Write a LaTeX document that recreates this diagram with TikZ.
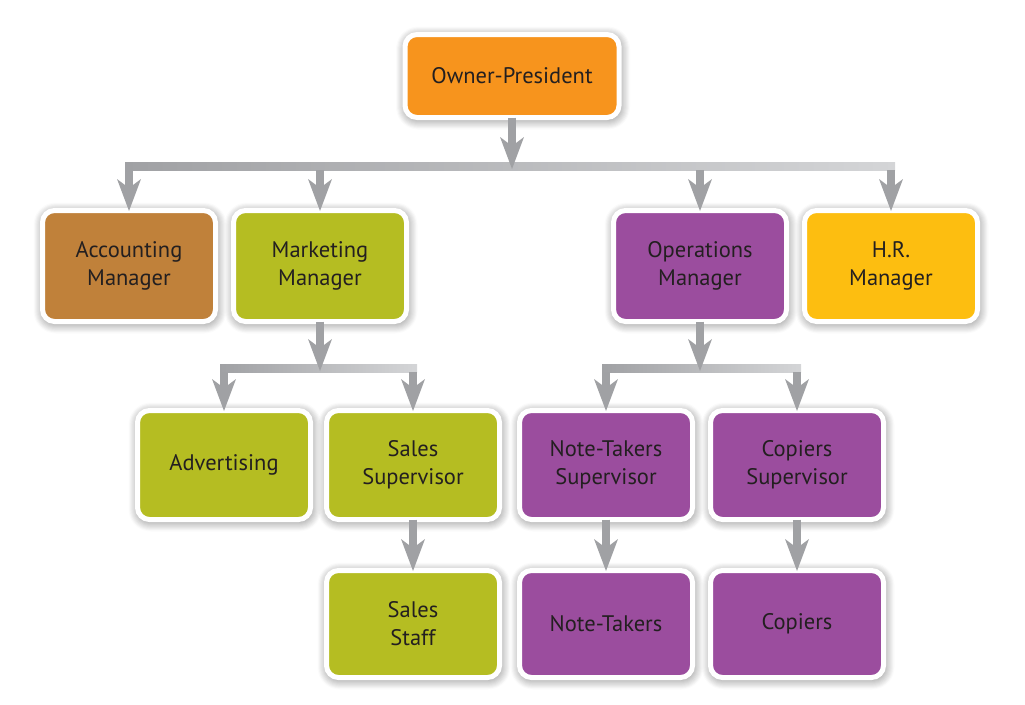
\documentclass[tikz,border=0pt]{standalone}
\usepackage{fontspec}
\setmainfont{PT Sans}
\usetikzlibrary{arrows.meta,shadows.blur}
\definecolor{corange}{HTML}{F7941D}
\definecolor{cbrown}{HTML}{C0813A}
\definecolor{colive}{HTML}{B5BD22}
\definecolor{cpurple}{HTML}{9B4D9E}
\definecolor{cyellow}{HTML}{FDBE10}
\definecolor{cgray}{HTML}{A0A1A4}
\definecolor{clight}{HTML}{D4D5D7}
\definecolor{ctext}{HTML}{231F20}
\tikzset{
  box/.style={rounded corners=12pt, draw=white, line width=5pt, align=center,
    text=ctext, font=\fontsize{22.5}{28}\selectfont,
    blur shadow={shadow blur steps=10, shadow xshift=1pt, shadow yshift=-2pt, shadow opacity=55, shadow blur radius=10pt},
    minimum width=173pt, inner sep=0pt},
  r2/.style={box, minimum height=111pt},
  r3/.style={box, minimum height=109pt},
  r4/.style={box, minimum height=107pt},
  barfill/.style={left color=cgray, right color=clight, draw=none},
  arr/.style={draw=cgray, line width=8pt, -{Stealth[width=24pt,length=32pt,inset=9pt,line width=0pt]}},
}
\begin{document}
\begin{tikzpicture}[x=1pt,y=-1pt]
\useasboundingbox (0,0) rectangle (1025,704);
% nodes
\node[box, fill=corange, minimum width=214pt, minimum height=83pt] (owner) at (512,76) {Owner-President};
\node[r2, fill=cbrown] (acc) at (129,266) {Accounting\\Manager};
\node[r2, fill=colive] (mkt) at (320,266) {Marketing\\Manager};
\node[r2, fill=cpurple] (ops) at (700,266) {Operations\\Manager};
\node[r2, fill=cyellow] (hr) at (891,266) {H.R.\\Manager};
\node[r3, fill=colive] (adv) at (224,465) {Advertising};
\node[r3, fill=colive] (ssup) at (413,465) {Sales\\Supervisor};
\node[r3, fill=cpurple] (nsup) at (606,465) {Note-Takers\\Supervisor};
\node[r3, fill=cpurple] (csup) at (797,465) {Copiers\\Supervisor};
\node[r4, fill=colive] (staff) at (413,624) {Sales\\Staff};
\node[r4, fill=cpurple] (notes) at (606,624) {Note-Takers};
\node[r4, fill=cpurple] (cop) at (797,624) {Copiers};
% junction coordinates
\coordinate (b1) at (512,166);
\coordinate (b2) at (320,368);
\coordinate (b3) at (700,368);
% level 1 connectors
\path[barfill] ([shift={(-4pt,-4pt)}]acc.north |- b1) rectangle ([shift={(4pt,4pt)}]hr.north |- b1);
\draw[arr] ([yshift=2.5pt]owner.south) -- ([yshift=-3pt]b1);
\foreach \n in {acc,mkt,ops,hr}{
  \draw[arr] ([yshift=-4pt]\n.north |- b1) -- ([yshift=-3pt]\n.north);
}
% level 2
\path[barfill] ([shift={(-4pt,-4pt)}]adv.north |- b2) rectangle ([shift={(4pt,4pt)}]ssup.north |- b2);
\draw[arr] ([yshift=2.5pt]mkt.south) -- ([yshift=-3pt]b2);
\draw[arr] ([yshift=-4pt]adv.north |- b2) -- ([yshift=-3pt]adv.north);
\draw[arr] ([yshift=-4pt]ssup.north |- b2) -- ([yshift=-3pt]ssup.north);
\path[barfill] ([shift={(-4pt,-4pt)}]nsup.north |- b3) rectangle ([shift={(4pt,4pt)}]csup.north |- b3);
\draw[arr] ([yshift=2.5pt]ops.south) -- ([yshift=-3pt]b3);
\draw[arr] ([yshift=-4pt]nsup.north |- b3) -- ([yshift=-3pt]nsup.north);
\draw[arr] ([yshift=-4pt]csup.north |- b3) -- ([yshift=-3pt]csup.north);
% level 3
\draw[arr] ([yshift=2.5pt]ssup.south) -- ([yshift=-3pt]staff.north);
\draw[arr] ([yshift=2.5pt]nsup.south) -- ([yshift=-3pt]notes.north);
\draw[arr] ([yshift=2.5pt]csup.south) -- ([yshift=-3pt]cop.north);
\end{tikzpicture}
\end{document}
